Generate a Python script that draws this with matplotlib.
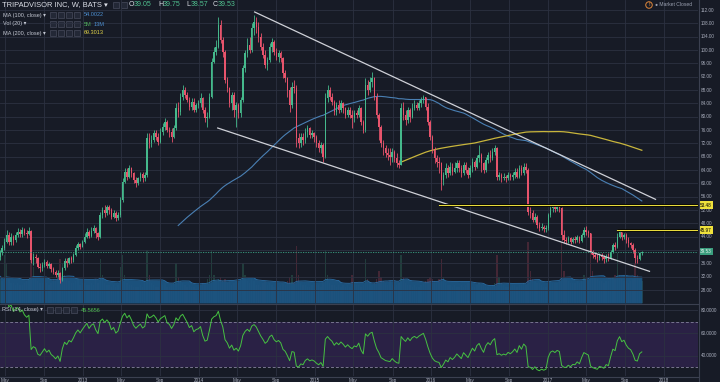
import numpy as np
import pandas as pd
import matplotlib
matplotlib.use("Agg")
import matplotlib.pyplot as plt
import matplotlib.dates as mdates
import matplotlib.transforms as mtrans
from matplotlib.patches import Rectangle, Ellipse

plt.rcParams['font.family'] = ['Liberation Sans', 'DejaVu Sans']

# ---- weekly bars (TRIP, W, BATS), one list per year ----
first_open = 24.0
close_2011 = [24.5, 25.0, 25.5, 26.2]
high_2011 = [26.0, 26.0, 26.5, 27.0]
low_2011 = [23.5, 24.0, 24.5, 25.0]
vol_2011 = [30, 18, 15, 14]

close_2012 = [26.5, 28.0, 29.2, 30.0, 31.0, 33.5, 34.2, 33.8, 34.5, 35.0, 34.2, 35.5, 35.8, 37.0, 38.0,
              39.5, 40.5, 42.5, 44.5, 42.5, 44.0, 43.0, 44.5, 45.5, 44.8, 46.0, 45.2, 44.8, 45.8, 37.0,
              38.0, 37.5, 35.0, 34.5, 35.5, 36.5, 35.2, 35.8, 34.2, 33.5, 32.5, 33.2, 31.0, 34.5, 36.8,
              36.0, 37.5, 37.0, 38.5, 40.5, 41.8, 41.0, 42.5]
high_2012 = [27.5, 28.5, 29.8, 30.5, 31.5, 34.0, 35.0, 34.8, 35.0, 35.8, 35.5, 36.0, 36.5, 37.5, 38.5,
             40.0, 41.5, 43.5, 46.0, 45.5, 45.0, 44.5, 45.5, 46.5, 46.2, 47.0, 46.5, 46.0, 47.0, 46.0,
             39.0, 38.8, 38.0, 36.0, 36.5, 37.2, 37.0, 36.5, 36.2, 35.0, 34.0, 34.0, 33.5, 35.0, 37.5,
             37.5, 38.0, 38.2, 39.0, 41.5, 42.5, 42.0, 43.0]
low_2012 = [25.5, 26.2, 27.5, 28.8, 29.5, 30.8, 33.0, 33.2, 33.5, 34.0, 33.8, 34.0, 35.0, 35.5, 36.5,
            37.0, 38.5, 40.0, 42.0, 41.5, 41.5, 41.5, 42.5, 43.8, 43.8, 44.0, 44.5, 43.5, 44.5, 36.0,
            35.5, 36.0, 34.5, 33.5, 33.8, 35.0, 34.5, 34.5, 33.5, 32.8, 31.8, 32.0, 30.2, 30.8, 34.0,
            35.0, 35.8, 36.2, 36.5, 38.2, 40.0, 40.2, 40.8]
vol_2012 = [13, 12, 11, 12, 13, 18, 12, 11, 10, 11, 10, 10, 11, 12, 11,
            12, 11, 24, 20, 12, 10, 10, 9, 10, 9, 9, 10, 11, 12, 30, 18, 12, 11, 10, 10, 9, 10, 9,
            10, 12, 11, 13, 22, 20, 14, 12, 11, 10, 10, 11, 12, 9, 10]

close_2013 = [44.0, 45.5, 44.2, 45.8, 46.5, 45.0, 44.0, 50.5, 52.0, 51.0, 52.8, 52.0, 50.0, 51.2, 49.5,
              50.5, 55.0, 60.5, 63.5, 62.0, 64.5, 63.0, 61.0, 60.0, 61.5, 62.8, 61.5, 62.5, 73.5, 72.0,
              73.0, 75.0, 74.0, 72.5, 75.5, 77.0, 78.5, 76.0, 75.5, 74.0, 76.5, 82.5, 81.5, 86.0, 88.0,
              86.5, 85.0, 83.0, 84.5, 82.0, 83.5, 84.0]
high_2013 = [45, 46.5, 46, 47, 47.5, 47, 45.5, 51.5, 53, 53.5, 53.6, 53.5, 52.5, 52, 51.8,
             51.5, 56, 61.5, 64.5, 64.5, 65.5, 65, 63.5, 62, 62, 63.5, 63.5, 63.5, 75, 75,
             74.5, 76, 76, 75, 76.5, 78, 79.5, 79, 77, 76.5, 77.5, 84, 84.5, 87, 89.5,
             89, 87.5, 86, 85.5, 85.5, 84, 85]
low_2013 = [42, 43.5, 43.5, 43.8, 45, 43.5, 43, 43.5, 49.5, 50, 50.5, 50.8, 49.2, 49.5, 48.8,
            49, 50, 54.5, 60, 61, 61.5, 62, 60, 59, 59.5, 60.8, 60.5, 60.8, 62, 70.5,
            71, 72.5, 73, 71.5, 72, 74.5, 76, 75.5, 74, 72.5, 73.5, 76, 80, 80.5, 85,
            85.5, 84.5, 82, 82, 81.5, 81.5, 82.5]
vol_2013 = [10, 9, 9, 10, 9, 12, 10, 22, 14, 10, 9, 9, 8, 9, 8, 9, 18, 24, 14, 10,
            9, 9, 8, 8, 8, 9, 8, 10, 26, 14, 10, 9, 8, 8, 9, 9, 10, 8, 8, 9,
            10, 20, 13, 11, 10, 9, 8, 9, 8, 8, 7, 8]

close_2014 = [85.5, 82.0, 79.5, 80.0, 86.0, 96.5, 99.5, 101.0, 107.5, 103.0, 99.5, 91.0, 88.5, 84.0, 86.5,
              82.0, 83.5, 81.0, 85.0, 94.5, 99.0, 101.5, 100.0, 106.5, 108.5, 107.0, 104.0, 101.0, 98.5, 95.5,
              97.0, 101.0, 102.5, 99.5, 98.0, 99.0, 97.5, 93.0, 91.5, 88.0, 83.5, 89.0, 88.5, 73.5, 72.0,
              74.0, 73.0, 75.5, 76.5, 74.5, 75.0, 74.0]
high_2014 = [87, 86, 83, 81.5, 87, 97.5, 101, 103, 110, 109, 104, 100, 92, 89, 87.5,
             87.5, 84.5, 84, 86, 95.5, 100, 103.5, 104, 108, 110.5, 110, 108.5, 105, 102, 100,
             98, 102, 103.5, 103, 100.5, 100, 99.8, 98, 94, 92, 89, 90.5, 91, 89.5, 75,
             75, 75, 76.5, 77.5, 77, 76, 75.5]
low_2014 = [83, 81, 78.5, 77, 79.5, 85.5, 96, 98.5, 100.5, 102, 98, 90, 87.5, 83, 82,
            80, 77, 79.5, 80, 84.5, 93.5, 98, 99, 99.5, 104.5, 105, 102.5, 100, 97.5, 94.5,
            94, 96.5, 99.5, 98.5, 97, 96.5, 96.5, 91.5, 90.5, 86, 81.5, 82.5, 87, 71, 70.5,
            71, 71.5, 72, 74, 73.5, 73.5, 72.5]
vol_2014 = [9, 10, 9, 12, 14, 26, 14, 11, 12, 13, 11, 12, 10, 11, 9, 10, 11, 10, 12, 20,
            14, 11, 10, 12, 11, 9, 9, 8, 10, 11, 9, 10, 9, 8, 8, 8, 9, 10, 9, 11,
            13, 14, 10, 28, 14, 10, 9, 9, 8, 8, 9, 7]

close_2015 = [72.0, 70.5, 71.5, 68.0, 85.5, 88.0, 86.0, 84.5, 81.5, 83.5, 82.0, 84.0, 82.5, 80.5, 82.0,
              80.5, 79.5, 81.0, 80.5, 82.5, 78.5, 76.0, 89.5, 88.0, 90.5, 91.5, 86.0, 80.5, 77.0, 72.0,
              70.5, 69.0, 68.5, 68.0, 69.5, 67.5, 66.0, 65.5, 82.5, 80.5, 79.0, 82.0, 80.0, 82.5, 83.5,
              82.5, 84.0, 85.0, 86.0, 83.0, 78.5, 74.0]
high_2015 = [74.5, 73, 72.5, 72, 87, 89.5, 89, 87, 85, 84.5, 85, 85, 84.5, 83, 83,
             83, 82, 82, 82, 83.5, 83, 79, 91.5, 91, 92, 93.5, 92, 87, 81, 77.5,
             73, 71.5, 70.5, 70.5, 70.5, 70, 69, 67, 84, 84.5, 82, 83, 82.5, 84, 85,
             84.5, 85, 86, 86.5, 86, 84, 79]
low_2015 = [71, 69.5, 69, 66.5, 67.5, 84.5, 85, 83.5, 80.5, 80.5, 81, 81.5, 81, 79.5, 80,
            79.5, 76.5, 78.5, 79.5, 80, 77.5, 75, 75.5, 86.5, 87.5, 89, 85, 79.5, 73, 71,
            68.5, 68, 67, 65.5, 66.5, 66.5, 65, 64.5, 65.5, 79, 77.5, 78, 78.5, 79.5, 82,
            82, 82, 83, 84, 82, 77.5, 73]
vol_2015 = [9, 9, 8, 10, 26, 14, 10, 9, 9, 8, 9, 8, 9, 8, 9, 8, 14, 10, 9, 9,
            8, 9, 22, 12, 10, 9, 10, 12, 16, 13, 11, 10, 9, 11, 9, 8, 9, 10, 24, 13,
            10, 9, 9, 8, 9, 8, 8, 9, 10, 11, 12, 13]

close_2016 = [70.0, 67.5, 66.5, 66.0, 61.0, 62.5, 64.5, 63.0, 65.0, 63.5, 64.5, 66.0, 64.5, 63.0, 65.5,
              64.0, 62.5, 64.5, 66.5, 65.0, 67.5, 68.5, 66.0, 64.0, 67.0, 68.5, 67.5, 69.5, 70.5, 62.0,
              62.5, 61.5, 62.0, 61.5, 62.5, 61.8, 62.5, 63.5, 62.0, 64.5, 63.0, 65.0, 64.0, 51.5, 51.0,
              49.0, 50.0, 47.5, 46.5, 47.0, 46.2, 46.5]
high_2016 = [74.5, 71, 68.5, 68, 66.5, 63.5, 66, 65.5, 66.5, 66, 66.5, 67, 67, 65.5, 66.5,
             66.5, 65, 65.5, 67.5, 67, 68.5, 71.5, 69, 66.5, 68, 69.5, 70, 70.5, 71.5, 71,
             63.5, 63, 63, 62.5, 63.5, 63, 63.5, 64.5, 64.5, 65.5, 65.5, 66, 66, 64.5, 53,
             52, 51, 50.5, 48.5, 48, 47.5, 47.5]
low_2016 = [69, 66, 65, 63, 58, 59.5, 61.5, 62, 62.5, 62.5, 63, 63.5, 63.5, 62, 62.5,
            63, 61.5, 62, 63.5, 64, 64.5, 66.5, 63.5, 63, 63.5, 66, 66.5, 67, 68.5, 61,
            61, 60.5, 61, 60.5, 61, 61, 61, 61.5, 61.5, 61.5, 62.5, 62.5, 63, 50.5, 49.5,
            48.5, 48.5, 46.5, 45.8, 46, 45.5, 45.5]
vol_2016 = [12, 11, 10, 12, 22, 13, 10, 9, 9, 8, 9, 8, 8, 9, 8, 9, 10, 9, 8, 8,
            9, 10, 9, 9, 8, 8, 8, 9, 10, 24, 13, 10, 9, 8, 8, 8, 9, 9, 8, 9,
            9, 10, 9, 30, 16, 12, 11, 10, 10, 9, 8, 8]

close_2017 = [50.5, 52.5, 53.0, 52.2, 53.0, 52.5, 44.5, 43.0, 42.8, 43.5, 42.5, 43.2, 43.0, 43.8, 42.8,
              44.5, 46.0, 45.5, 45.0, 39.5, 38.5, 38.0, 37.5, 38.2, 37.8, 37.2, 38.0, 37.5, 39.5, 41.5,
              41.0, 44.0, 45.5, 44.0, 44.5, 43.0, 42.0, 41.5, 40.0, 37.5, 37.2, 39.05, 39.53]
high_2017 = [51, 53.5, 53.48, 53.4, 53.4, 53.2, 53, 46, 44, 44.2, 44, 44, 44.2, 44.5, 44.2,
             45.2, 47, 47.2, 46, 45, 40, 39.5, 38.8, 39, 39, 38.5, 38.8, 39, 40, 42,
             42.5, 45, 45.97, 45.5, 45.2, 45, 43.8, 42.5, 42, 40.5, 38.5, 39.5, 39.75]
low_2017 = [46, 50, 51.5, 51.5, 51.8, 51.5, 43, 42.2, 41.8, 42, 41.8, 42, 42.2, 42.5, 42.2,
            42.5, 44, 44.5, 44, 38.8, 37.5, 37.2, 36.5, 37, 37, 36, 36.5, 36.8, 37.2, 39,
            40, 40.5, 43.5, 43, 43.2, 42.2, 41, 40.5, 39, 36.2, 36, 37, 38.57]
vol_2017 = [12, 11, 10, 10, 10, 11, 30, 16, 12, 11, 10, 10, 10, 11, 10, 11, 14, 12, 11, 28,
            16, 13, 12, 11, 11, 10, 11, 11, 12, 13, 14, 25, 14, 12, 11, 11, 10, 11, 12, 20,
            14, 12, 11]

# drawn objects (date, price)
upper_trend = [("2014-06-25", 111.4), ("2017-12-05", 55.2)]
lower_trend = [("2014-03-01", 76.6), ("2017-11-16", 33.6)]
level_lines = [("2016-01-26", 53.48), ("2017-08-05", 45.97)]
last_close = 39.53

close = np.array(close_2011 + close_2012 + close_2013 + close_2014 + close_2015 + close_2016 + close_2017)
high = np.array(high_2011 + high_2012 + high_2013 + high_2014 + high_2015 + high_2016 + high_2017)
low = np.array(low_2011 + low_2012 + low_2013 + low_2014 + low_2015 + low_2016 + low_2017)
vol = np.array(vol_2011 + vol_2012 + vol_2013 + vol_2014 + vol_2015 + vol_2016 + vol_2017, dtype=float)
dates = pd.date_range("2011-12-05", periods=len(close), freq="W-MON")
opn = np.r_[first_open, close[:-1]]
high = np.maximum(high, np.maximum(opn, close))
low = np.minimum(low, np.minimum(opn, close))

cs = pd.Series(close)
ma100 = cs.rolling(100).mean().values
ma200 = cs.rolling(200).mean().values
vol_ma = pd.Series(vol).rolling(20).mean().values
d = cs.diff()
up = d.clip(lower=0).ewm(alpha=1 / 14, adjust=False).mean()
dn = (-d.clip(upper=0)).ewm(alpha=1 / 14, adjust=False).mean()
rsi = (100 - 100 / (1 + up / dn)).values
rsi[:14] = np.nan

# ---- layout in pixels ----
W, H = 720, 382
BG = '#171b26'
GRID = '#2c3141'
TXT = '#a9aebd'
UP, DOWN = '#45b98c', '#e8546c'


def frame(x0, y0, x1, y1):
    return [x0 / W, 1 - y1 / H, (x1 - x0) / W, (y1 - y0) / H]


fig = plt.figure(figsize=(W / 100, H / 100), dpi=100, facecolor=BG)
ax = fig.add_axes(frame(0, 0, 698, 303))
axv = ax.twinx()
axr = fig.add_axes(frame(0, 305, 698, 376), sharex=ax)
ax.set_zorder(axv.get_zorder() + 1)
ax.patch.set_visible(False)
axr.set_facecolor(BG)

t0 = mdates.date2num(pd.Timestamp("2013-01-01"))
px_day = 116.3 / 365.25
xmin, xmax = t0 - 82.7 / px_day, t0 + (698 - 82.7) / px_day
x = mdates.date2num(dates)

ticks = pd.date_range("2012-05-01", "2018-01-01", freq="4MS")
tnum = mdates.date2num(ticks)

for a in (ax, axv, axr):
    a.set_xlim(xmin, xmax)
    for s in a.spines.values():
        s.set_visible(False)
    a.tick_params(left=False, right=False, bottom=False, top=False,
                  labelleft=False, labelright=False, labelbottom=False)

ax.set_ylim(24.1, 115.0)
axv.set_ylim(0, 150)
axr.set_ylim(22.5, 84.6)

ax.set_xticks(tnum)
ax.set_yticks(np.arange(28, 113, 4))
ax.grid(True, color=GRID, lw=0.6)
axr.set_yticks([40, 60, 80])
axr.grid(True, color=GRID, lw=0.6)
axv.set_yticks([])

# volume
up_mask = close >= opn
vcol = np.where(up_mask, UP, DOWN)
axv.bar(x, vol, width=4.3, color=vcol, alpha=0.22, lw=0)
ok = ~np.isnan(vol_ma)
axv.fill_between(x[ok], 0, vol_ma[ok], color='#1c5582', lw=0, alpha=0.95)
axv.plot(x[ok], vol_ma[ok], color='#2a6ea6', lw=0.6)

# moving averages
ax.plot(x, ma100, color='#4a80b4', lw=0.8, zorder=3)
ax.plot(x, ma200, color='#c8b53c', lw=0.9, zorder=3)

# candles
ax.vlines(x, low, high, colors=vcol, lw=0.6, zorder=4)
body = np.maximum(np.abs(close - opn), 0.2)
ax.bar(x, body, bottom=np.minimum(opn, close), width=4.5, color=vcol, lw=0, zorder=5)

# trend channel
for seg in (upper_trend, lower_trend):
    xs = [mdates.date2num(pd.Timestamp(s[0])) for s in seg]
    ys = [s[1] for s in seg]
    ax.plot(xs, ys, color='#cfd1d8', lw=0.9, zorder=6)

# horizontal levels
for start, lev in level_lines:
    xs0 = mdates.date2num(pd.Timestamp(start))
    ax.plot([xs0, xmax], [lev, lev], color='#000000', lw=2.0, zorder=6, solid_capstyle='butt')
    ax.plot([xs0, xmax], [lev, lev], color='#e9dc3c', lw=0.8, zorder=7)
ax.axhline(last_close, color='#3aa184', lw=0.6, ls=(0, (1.5, 1.5)), zorder=6)

# RSI panel
axr.axhspan(30, 70, color='#2a2145', lw=0, zorder=0)
for lev in (70, 30):
    axr.axhline(lev, color='#77748f', lw=0.7, ls=(0, (3, 2)), zorder=1)
axr.plot(x, rsi, color='#46c142', lw=0.7, zorder=3)

# separators
fig.add_artist(plt.Line2D([0, 698 / W], [1 - 304 / H] * 2, color='#3b4050', lw=0.8))
fig.add_artist(plt.Line2D([0, 698 / W], [1 - 376.5 / H] * 2, color='#3b4050', lw=0.8))
fig.add_artist(plt.Line2D([698.5 / W] * 2, [0, 1], color='#3b4050', lw=0.8))

# price axis labels (a tag hides the label right under it)
tags = ((53.48, '#efe13c', '#000000'), (45.97, '#efe13c', '#000000'),
        (last_close, '#3a9e7e', '#e8f5ef'))
bt = mtrans.blended_transform_factory(fig.transFigure, ax.transData)
for p in range(28, 113, 4):
    if any(abs(p - t[0]) < 1.2 for t in tags):
        continue
    ax.text(701 / W, p, f"{p:.2f}", transform=bt, fontsize=3.3, color=TXT,
            va='center', ha='left', clip_on=False)
for lev, fc, tc in tags:
    ax.text(700 / W, lev, f"{lev:.2f}", transform=bt, fontsize=3.3, color=tc, va='center',
            ha='left', clip_on=False, zorder=10,
            bbox=dict(boxstyle='square,pad=0.25', fc=fc, ec='none'))
btr = mtrans.blended_transform_factory(fig.transFigure, axr.transData)
for p in (40, 60, 80):
    axr.text(701 / W, p, f"{p:.4f}", transform=btr, fontsize=3.3, color=TXT,
             va='center', ha='left', clip_on=False)

# time axis labels
for t, tn in zip(ticks, tnum):
    lab = str(t.year) if t.month == 1 else t.strftime("%b")
    px = 82.7 + (tn - t0) * px_day
    fig.text(px / W, 1 - 377.8 / H, lab, fontsize=3.3, color=TXT, ha='center', va='top')


# legend rows
def boxes(x0, y, n):
    for k in range(n):
        fig.add_artist(Rectangle(((x0 + k * 8) / W, 1 - (y + 3) / H), 6 / W, 6 / H,
                                 fc='#232836', ec='#474c5c', lw=0.5))


fig.text(2 / W, 1 - 5 / H, "TRIPADVISOR INC, W, BATS \u25be", fontsize=5.4, color='#dde0e8',
         va='center', ha='left')
boxes(113, 5, 2)
for px, lab, val in ((129, "O", "39.05"), (158, "H", "39.75"), (186, "L", "38.57"), (213, "C", "39.53")):
    fig.text(px / W, 1 - 5 / H, lab, fontsize=5.0, color='#dde0e8', va='center', ha='left')
    fig.text((px + 4.5) / W, 1 - 5 / H, val, fontsize=5.0, color='#50c08f', va='center', ha='left')

rows = (("MA (100, close) \u25be", 15, [("54.0022", '#4d8fd1')]),
        ("Vol (20) \u25be", 24, [("5M", '#4fae5c'), ("13M", '#4d8fd1')]),
        ("MA (200, close) \u25be", 33, [("69.3013", '#e3d54a')]))
for lab, y, vals in rows:
    fig.text(3 / W, 1 - y / H, lab, fontsize=4.0, color='#c3c7d2', va='center', ha='left')
    boxes(50, y, 4)
    px = 84
    for v, c in vals:
        fig.text(px / W, 1 - y / H, v, fontsize=4.0, color=c, va='center', ha='left')
        px += 10

fig.text(2 / W, 1 - 310 / H, "RSI (14, close) \u25be", fontsize=4.0, color='#c3c7d2', va='center', ha='left')
boxes(47, 310, 4)
fig.text(81 / W, 1 - 310 / H, "45.5656", fontsize=4.0, color='#50c050', va='center', ha='left')

# market status (orange alert icon + text)
fig.add_artist(Ellipse((649 / W, 1 - 5 / H), 6.5 / W, 6.5 / H, fc='none', ec='#e0873a', lw=0.7))
fig.text(649 / W, 1 - 5 / H, "!", fontsize=3.6, color='#e0873a', va='center', ha='center',
         fontweight='bold')
fig.text(655 / W, 1 - 5 / H, "\u25cf Market Closed", fontsize=3.6, color='#9ba1b1', va='center', ha='left')

fig.savefig("out.png", dpi=100, facecolor=BG)
